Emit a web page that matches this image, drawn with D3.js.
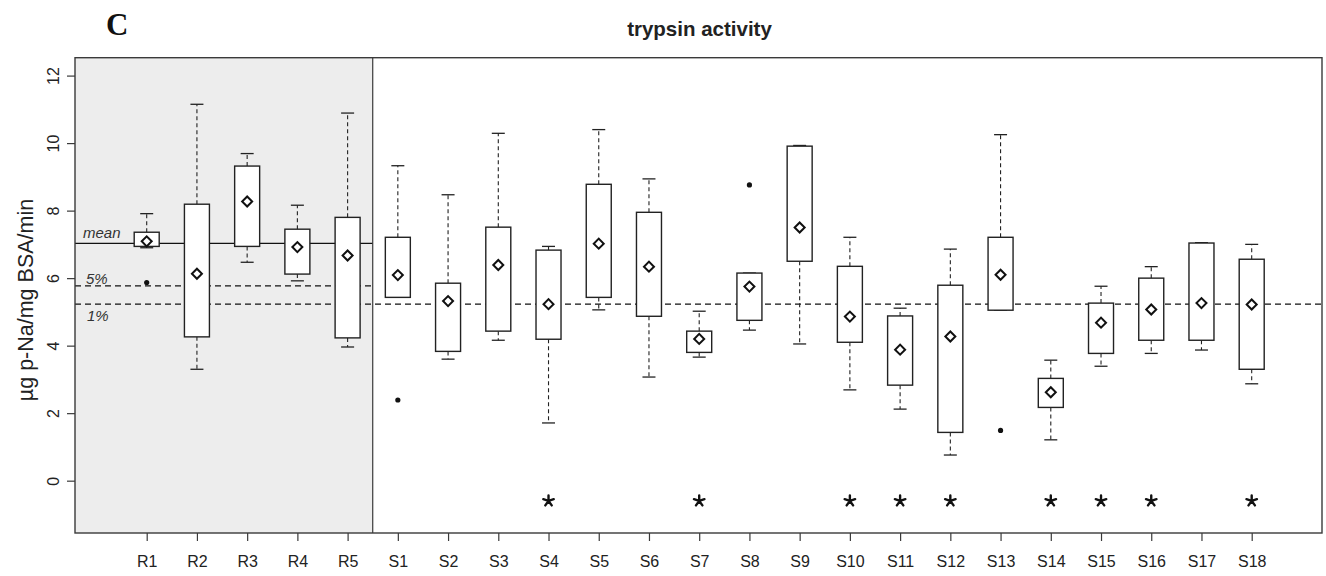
<!DOCTYPE html>
<html lang="en">
<head>
    <meta charset="UTF-8">
    <title>trypsin activity</title>
    <script src="https://cdn.jsdelivr.net/npm/d3@7"></script>
    <style>
        body {
            margin: 0;
            background: white;
        }
        svg {
            display: block;
            font-family: "Liberation Sans", Arial, sans-serif;
        }
    </style>
</head>
<body>
    <svg id="chart" width="1326" height="576"></svg>
    <script>
        // sites: 5 reference sites then 18 sampling sites
        const categories = ["R1", "R2", "R3", "R4", "R5",
            "S1", "S2", "S3", "S4", "S5", "S6", "S7", "S8", "S9",
            "S10", "S11", "S12", "S13", "S14", "S15", "S16", "S17", "S18"]
        const whiskerLow = [6.90, 3.30, 6.47, 5.92, 3.96,
            5.43, 3.60, 4.16, 1.71, 5.06, 3.07, 3.66, 4.46, 4.05,
            2.69, 2.12, 0.76, 5.05, 1.21, 3.39, 3.77, 3.87, 2.87]
        const quartile1 = [6.94, 4.26, 6.94, 6.12, 4.23,
            5.43, 3.83, 4.43, 4.19, 5.43, 4.87, 3.80, 4.75, 6.50,
            4.10, 2.83, 1.43, 5.05, 2.17, 3.77, 4.16, 4.16, 3.30]
        const quartile3 = [7.36, 8.19, 9.32, 7.45, 7.80,
            7.21, 5.85, 7.51, 6.83, 8.78, 7.95, 4.43, 6.15, 9.91,
            6.35, 4.88, 5.79, 7.21, 3.03, 5.26, 6.00, 7.04, 6.56]
        const whiskerHigh = [7.91, 11.15, 9.69, 8.16, 10.89,
            9.33, 8.47, 10.29, 6.94, 10.40, 8.94, 5.02, 6.15, 9.93,
            7.21, 5.11, 6.86, 10.25, 3.57, 5.76, 6.34, 7.05, 7.00]
        const means = [7.09, 6.13, 8.27, 6.92, 6.67,
            6.09, 5.32, 6.39, 5.23, 7.02, 6.34, 4.20, 5.75, 7.50,
            4.86, 3.88, 4.27, 6.10, 2.62, 4.68, 5.07, 5.26, 5.22]
        const outlierSites = ["R1", "S1", "S8", "S13"]
        const outlierValues = [5.87, 2.39, 8.76, 1.49]
        const starSites = ["S4", "S7", "S10", "S11", "S12", "S14", "S15", "S16", "S18"]
        const starLevel = -0.6
        const yTicks = [0, 2, 4, 6, 8, 10, 12]
        const refMean = 7.03
        const ref5 = 5.77
        const ref1 = 5.23
        const refSites = ["R1", "R2", "R3", "R4", "R5"]

        const boxes = categories.map((c, i) => ({
            site: c,
            lo: whiskerLow[i],
            q1: quartile1[i],
            q3: quartile3[i],
            hi: whiskerHigh[i],
            mean: means[i]
        }))

        const plotLeft = 75, plotRight = 1322, plotTop = 57.7, plotBottom = 533
        const svg = d3.select("#chart")

        const x = d3.scalePoint()
            .domain(categories)
            .range([146.7, 1251.7])
        const step = x.step()
        const y = d3.scaleLinear()
            .domain([-1.55, 12.53])
            .range([plotBottom, plotTop])

        const boxW = 25
        const capW = 13
        const ink = "#222"
        const frameCol = "#3a3a3a"

        // grey panel behind the reference sites
        const refEdge = x(refSites[refSites.length - 1]) + step / 2
        svg.append("rect")
            .attr("x", plotLeft).attr("y", plotTop)
            .attr("width", refEdge - plotLeft).attr("height", plotBottom - plotTop)
            .attr("fill", "#ededed")

        // reference lines
        const refLines = svg.append("g").attr("stroke", "#111").attr("stroke-width", 1.2)
        refLines.append("line")
            .attr("x1", plotLeft).attr("x2", refEdge)
            .attr("y1", y(refMean)).attr("y2", y(refMean))
        refLines.append("line")
            .attr("x1", plotLeft).attr("x2", refEdge)
            .attr("y1", y(ref5)).attr("y2", y(ref5))
            .attr("stroke-dasharray", "6,4")
        refLines.append("line")
            .attr("x1", plotLeft).attr("x2", plotRight)
            .attr("y1", y(ref1)).attr("y2", y(ref1))
            .attr("stroke-dasharray", "6,4")

        const refLabels = svg.append("g")
            .attr("font-size", "15px")
            .attr("font-style", "italic")
            .attr("fill", "#333")
        refLabels.append("text").attr("x", plotLeft + 8).attr("y", y(refMean) - 5).text("mean")
        refLabels.append("text").attr("x", plotLeft + 11).attr("y", y(ref5) - 1.5).text("5%")
        refLabels.append("text").attr("x", plotLeft + 12).attr("y", y(ref1) + 17).text("1%")

        // boxplots
        const g = svg.selectAll("g.box")
            .data(boxes)
            .enter()
            .append("g")
            .attr("class", "box")
            .attr("transform", d => `translate(${x(d.site)},0)`)

        g.append("line")
            .attr("y1", d => y(d.q3)).attr("y2", d => y(d.hi))
            .attr("stroke", ink).attr("stroke-width", 1.1)
            .attr("stroke-dasharray", "4,3")
        g.append("line")
            .attr("y1", d => y(d.q1)).attr("y2", d => y(d.lo))
            .attr("stroke", ink).attr("stroke-width", 1.1)
            .attr("stroke-dasharray", "4,3")
        g.append("line")
            .attr("x1", -capW / 2).attr("x2", capW / 2)
            .attr("y1", d => y(d.hi)).attr("y2", d => y(d.hi))
            .attr("stroke", ink).attr("stroke-width", 1.3)
        g.append("line")
            .attr("x1", -capW / 2).attr("x2", capW / 2)
            .attr("y1", d => y(d.lo)).attr("y2", d => y(d.lo))
            .attr("stroke", ink).attr("stroke-width", 1.3)
        g.append("rect")
            .attr("x", -boxW / 2).attr("width", boxW)
            .attr("y", d => y(d.q3))
            .attr("height", d => y(d.q1) - y(d.q3))
            .attr("fill", "white")
            .attr("stroke", ink).attr("stroke-width", 1.4)

        // mean diamonds
        const diamond = d3.symbol().type(d3.symbolSquare).size(50)
        g.append("path")
            .attr("d", diamond)
            .attr("transform", d => `translate(0,${y(d.mean)}) rotate(45)`)
            .attr("fill", "white")
            .attr("stroke", "#111")
            .attr("stroke-width", 2)

        // outliers
        svg.append("g").selectAll("circle")
            .data(outlierSites)
            .enter()
            .append("circle")
            .attr("cx", d => x(d))
            .attr("cy", (d, i) => y(outlierValues[i]))
            .attr("r", 2.6)
            .attr("fill", "#111")

        // five armed asterisk for significant sites
        const asterisk = {
            draw(context, size) {
                const r = Math.sqrt(size) / 2
                for (let k = 0; k < 5; k++) {
                    const a = -Math.PI / 2 + k * 2 * Math.PI / 5
                    context.moveTo(0, 0)
                    context.lineTo(r * Math.cos(a), r * Math.sin(a))
                }
            }
        }
        svg.append("g").selectAll("path")
            .data(starSites)
            .enter()
            .append("path")
            .attr("d", d3.symbol().type(asterisk).size(121))
            .attr("transform", d => `translate(${x(d)},${y(starLevel)})`)
            .attr("fill", "none")
            .attr("stroke", "#111")
            .attr("stroke-width", 2.4)
            .attr("stroke-linecap", "round")

        // frame and separator
        svg.append("line")
            .attr("x1", refEdge).attr("x2", refEdge)
            .attr("y1", plotTop).attr("y2", plotBottom)
            .attr("stroke", frameCol).attr("stroke-width", 1.2)
        svg.append("rect")
            .attr("x", plotLeft).attr("y", plotTop)
            .attr("width", plotRight - plotLeft).attr("height", plotBottom - plotTop)
            .attr("fill", "none")
            .attr("stroke", frameCol).attr("stroke-width", 1.4)

        // axes
        const yAxis = svg.append("g")
            .attr("transform", `translate(${plotLeft},0)`)
            .call(d3.axisLeft(y).tickValues(yTicks).tickSize(8).tickPadding(0))
        yAxis.select(".domain").remove()
        yAxis.selectAll(".tick line").attr("stroke", frameCol).attr("stroke-width", 1.2)
        yAxis.selectAll(".tick text")
            .attr("x", 0).attr("dy", null)
            .attr("transform", "translate(-16.5,0) rotate(-90)")
            .attr("text-anchor", "middle")
            .attr("font-size", "16px")
            .attr("font-family", "Liberation Sans, Arial, sans-serif")
            .attr("fill", ink)

        const xAxis = svg.append("g")
            .attr("transform", `translate(0,${plotBottom})`)
            .call(d3.axisBottom(x).tickSize(8).tickPadding(0))
        xAxis.select(".domain").remove()
        xAxis.selectAll(".tick line").attr("stroke", frameCol).attr("stroke-width", 1.2)
        xAxis.selectAll(".tick text")
            .attr("y", 34).attr("dy", null)
            .attr("font-size", "16px")
            .attr("font-family", "Liberation Sans, Arial, sans-serif")
            .attr("fill", ink)

        // titles
        svg.append("text")
            .attr("transform", `translate(32.5,300) rotate(-90)`)
            .attr("text-anchor", "middle")
            .attr("font-size", "21.5px")
            .attr("fill", ink)
            .text("µg p-Na/mg BSA/min")
        svg.append("text")
            .attr("x", (plotLeft + plotRight) / 2 + 1)
            .attr("y", 36)
            .attr("text-anchor", "middle")
            .attr("font-size", "20.5px")
            .attr("font-weight", "bold")
            .attr("fill", ink)
            .text("trypsin activity")
        svg.append("text")
            .attr("x", 106)
            .attr("y", 34.5)
            .attr("font-family", "Liberation Serif, Times New Roman, serif")
            .attr("font-size", "31px")
            .attr("font-weight", "bold")
            .attr("fill", "#111")
            .text("C")
    </script>
</body>
</html>
